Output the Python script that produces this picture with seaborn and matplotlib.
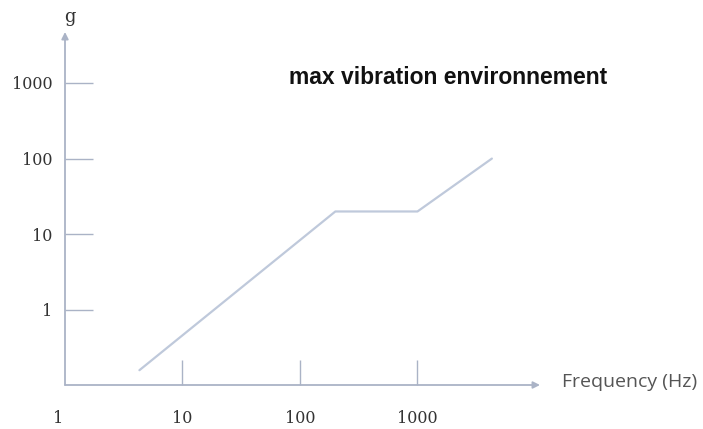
import matplotlib
matplotlib.use("Agg")
import matplotlib.pyplot as plt
import matplotlib.transforms as mtransforms
import seaborn as sns
import pandas as pd

# Data
freq_hz = [4.3, 200, 1000, 4300]
accel_g = [0.16, 20, 20, 100]
x_ticks = [1, 10, 100, 1000]
x_tick_labels = ["1", "10", "100", "1000"]
y_ticks = [1, 10, 100, 1000]
y_tick_labels = ["1", "10", "100", "1000"]
title_text = "max vibration environnement"
x_label = "Frequency (Hz)"
y_label = "g"

sns.set_style("white")

W, H = 703, 429
fig = plt.figure(figsize=(W / 100, H / 100), dpi=100)
ax = fig.add_axes([65 / W, (H - 385) / H, 475 / W, 353 / H])

axis_col = "#aab3c6"
line_col = "#bfc9db"

df = pd.DataFrame({"freq": freq_hz, "g": accel_g})
sns.lineplot(data=df, x="freq", y="g", ax=ax, color=line_col, linewidth=1.6)

ax.set_xscale("log")
ax.set_yscale("log")
ax.set_xlim(1, 11040)
ax.set_ylim(0.102, 4700)

ax.set_xticks(x_ticks)
ax.set_xticklabels(x_tick_labels)
ax.set_yticks(y_ticks)
ax.set_yticklabels(y_tick_labels)
ax.minorticks_off()

for s in ax.spines.values():
    s.set_visible(False)

ax.tick_params(axis="y", left=True, direction="in", length=20, width=1, color=axis_col,
               pad=9, labelsize=11.5, labelcolor="#333333")
ax.tick_params(axis="x", bottom=True, direction="in", length=18, width=1, color=axis_col,
               pad=18, labelsize=11.5, labelcolor="#333333")
for lab in ax.get_xticklabels() + ax.get_yticklabels():
    lab.set_fontfamily("DejaVu Serif")
# no tick mark at the origin in the reference; its label sits a little left
first = ax.xaxis.get_major_ticks()[0]
first.tick1line.set_visible(False)
first.label1.set_transform(first.label1.get_transform() +
                           mtransforms.ScaledTranslation(-7 / 100, 0, fig.dpi_scale_trans))

ax.set_xlabel("")
ax.set_ylabel("")

# Axis arrows
ax.annotate("", xy=(1.0, 0), xytext=(0, 0), xycoords="axes fraction",
            arrowprops=dict(arrowstyle="-|>", color=axis_col, lw=1.3,
                            mutation_scale=10, shrinkA=0, shrinkB=0))
ax.annotate("", xy=(0, 1.0), xytext=(0, 0), xycoords="axes fraction",
            arrowprops=dict(arrowstyle="-|>", color=axis_col, lw=1.3,
                            mutation_scale=10, shrinkA=0, shrinkB=0))

fig.text(70 / W, 1 - 17 / H, y_label, fontsize=13, family="DejaVu Serif",
         color="#333333", ha="center", va="center")
fig.text(630 / W, 1 - 382 / H, x_label, fontsize=14, family="Open Sans",
         color="#555555", ha="center", va="center")
fig.text(448 / W, 1 - 77 / H, title_text, fontsize=16.5, family="Liberation Sans",
         fontweight="bold", color="#111111", ha="center", va="center")

fig.savefig("out.png", dpi=100)
